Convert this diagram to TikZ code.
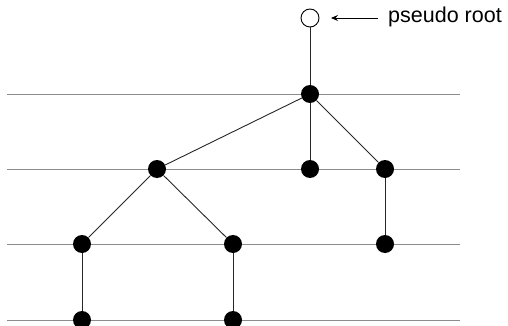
\documentclass[tikz,border=0pt]{standalone}
\usepackage{fontspec}
\setmainfont{Liberation Sans}
\usetikzlibrary{arrows.meta}
\begin{document}
\begin{tikzpicture}[x=1pt,y=-1pt,
  level/.style={draw=black!45,line width=0.8pt},
  edge/.style={draw=black!85,line width=0.9pt},
  vtx/.style={circle,fill=black,inner sep=0pt,minimum size=18pt},
  proot/.style={circle,draw=black,fill=white,line width=0.9pt,inner sep=0pt,minimum size=18pt}]
\useasboundingbox (0,0) rectangle (508,326);
% level lines
\foreach \i/\y in {1/94,2/169,3/244,4/320}{
  \coordinate (l\i) at (7,\y);
  \coordinate (r\i) at (460,\y);
  \draw[level] (l\i) -- (r\i);
}
% vertices
\node[proot] (p) at (310,18) {};
\node[vtx] (a) at (310,94) {};
\node[vtx] (b1) at (157,169) {};
\node[vtx] (b2) at (310,169) {};
\node[vtx] (b3) at (385,169) {};
\node[vtx] (c1) at (82,244) {};
\node[vtx] (c2) at (233,244) {};
\node[vtx] (c3) at (385,244) {};
\node[vtx] (d1) at (82,320) {};
\node[vtx] (d2) at (233,320) {};
% edges
\draw[edge] (p) -- (a);
\draw[edge] (a) -- (b1);
\draw[edge] (a) -- (b2);
\draw[edge] (a) -- (b3);
\draw[edge] (b1) -- (c1);
\draw[edge] (b1) -- (c2);
\draw[edge] (b3) -- (c3);
\draw[edge] (c1) -- (d1);
\draw[edge] (c2) -- (d2);
% label
\node[anchor=west,font=\fontsize{21.5}{25}\selectfont,inner sep=0pt] (lab) at (388,17) {pseudo root};
\coordinate (tail) at (378,18);
\coordinate (tip) at (331,18);
\draw[line width=0.9pt,-{Stealth[length=7pt,width=6pt,inset=2.5pt]}] (tail) -- (tip);
\end{tikzpicture}
\end{document}
